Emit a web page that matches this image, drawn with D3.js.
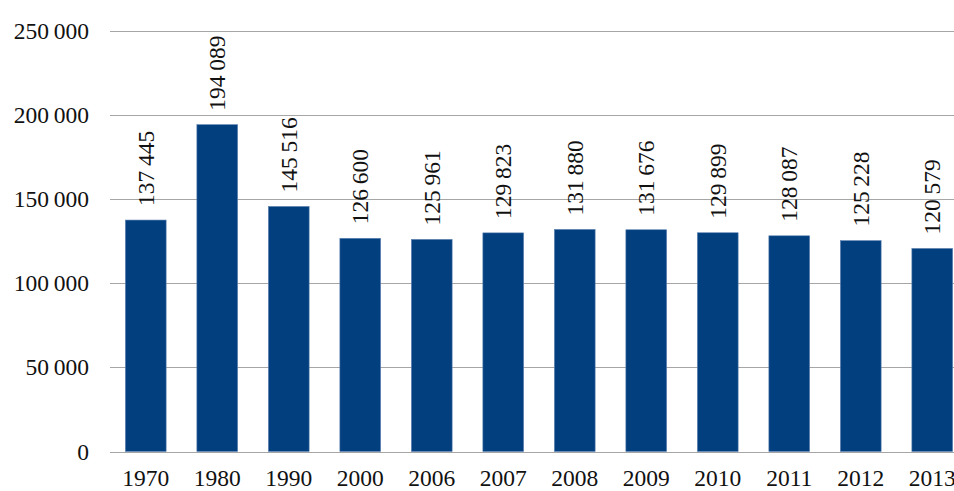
<!DOCTYPE html>
<html>
<head>
<meta charset="utf-8">
<script src="https://cdn.jsdelivr.net/npm/d3@7"></script>
<style>
  html, body { margin: 0; padding: 0; background: #fff; overflow: hidden; }
  svg { display: block; }
  text { font-family: "Liberation Serif", "DejaVu Serif", serif; fill: #111; }
</style>
</head>
<body>
<svg id="chart" width="954" height="491"></svg>
<script>
const years = ["1970", "1980", "1990", "2000", "2006", "2007", "2008", "2009", "2010", "2011", "2012", "2013"];
const values = [137445, 194089, 145516, 126600, 125961, 129823, 131880, 131676, 129899, 128087, 125228, 120579];
const yTicks = [0, 50000, 100000, 150000, 200000, 250000];

const fmt = v => d3.format(",")(v).replace(/,/g, "\u2009");

const svg = d3.select("#chart");
const plotLeft = 110, plotRight = 968, plotTop = 30.5, plotBottom = 451.5;
const fontSize = "23.5px";

const x = d3.scaleBand().domain(years).range([plotLeft, plotRight]).paddingInner(0.43).paddingOuter(0.215);
const y = d3.scaleLinear().domain([0, 250000]).range([plotBottom, plotTop]);

// gridlines
svg.append("g").selectAll("line").data(yTicks).join("line")
  .attr("x1", plotLeft).attr("x2", 954)
  .attr("y1", d => Math.round(y(d)) + 0.5).attr("y2", d => Math.round(y(d)) + 0.5)
  .attr("stroke", "#a6a6a6").attr("stroke-width", 1.2);

// y-axis labels
const yAxis = d3.axisLeft(y).tickValues(yTicks).tickSize(0).tickPadding(21).tickFormat(d => d === 0 ? "0" : fmt(d));
const ga = svg.append("g").attr("transform", `translate(${plotLeft},0)`).call(yAxis);
ga.select(".domain").remove();
ga.selectAll("text").style("font-family", "Liberation Serif, DejaVu Serif, serif").style("font-size", fontSize).attr("fill", "#111");

// x-axis labels
const xAxis = d3.axisBottom(x).tickSize(0).tickPadding(18.3);
const gx = svg.append("g").attr("transform", `translate(0,${plotBottom})`).call(xAxis);
gx.select(".domain").remove();
gx.selectAll("text").style("font-family", "Liberation Serif, DejaVu Serif, serif").style("font-size", fontSize).attr("fill", "#111");

const data = years.map((yr, i) => ({ year: yr, value: values[i] }));

// bars
svg.append("g").selectAll("rect").data(data).join("rect")
  .attr("x", d => x(d.year))
  .attr("y", d => y(d.value))
  .attr("width", x.bandwidth())
  .attr("height", d => y(0) - y(d.value))
  .attr("fill", "#023f7e")
  .attr("stroke", "#5f83b3").attr("stroke-width", 0.6);

// value labels
svg.append("g").selectAll("text").data(data).join("text")
  .attr("transform", d => `translate(${x(d.year) + x.bandwidth() / 2},${y(d.value) - 14}) rotate(-90)`)
  .attr("text-anchor", "start")
  .attr("dy", "0.35em")
  .style("font-size", fontSize)
  .text(d => fmt(d.value));
</script>
</body>
</html>
